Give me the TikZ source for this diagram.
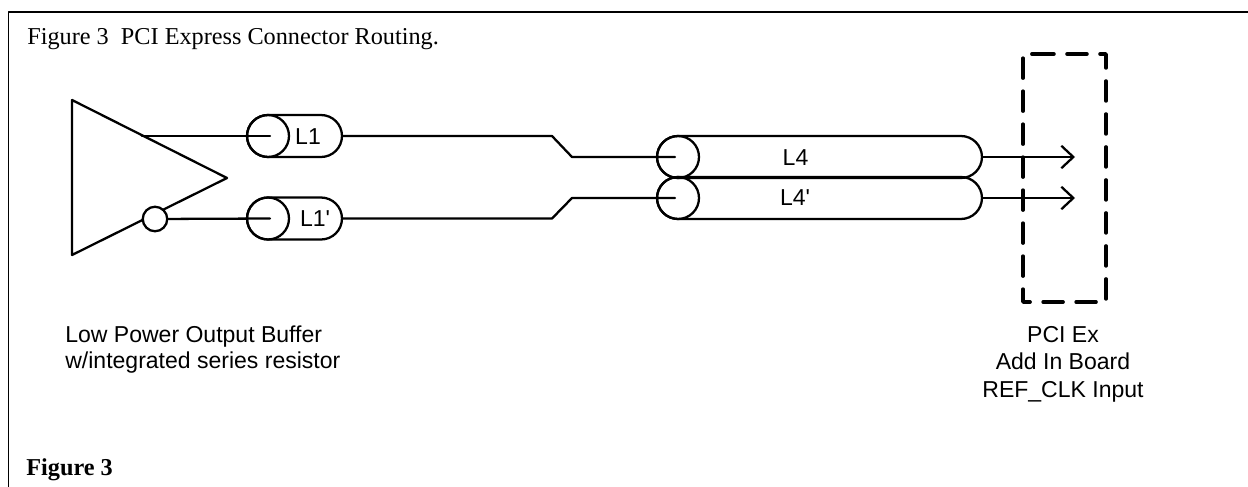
\documentclass[tikz,border=0pt]{standalone}
\usepackage{fontspec}
\setmainfont{Liberation Serif}
\newfontfamily\labelfont{Liberation Sans}
\usetikzlibrary{arrows.meta,shapes.misc}
\tikzset{
    pic line/.style={line width=1.3pt,line cap=round,line join=round},
    capsule/.style={draw,pic line,rounded rectangle,inner sep=0pt,minimum height=0.84cm},
    end circle/.style={draw,pic line,circle,inner sep=0pt,minimum size=0.84cm},
    sans label/.style={font=\labelfont\fontsize{13.1pt}{15.4pt}\selectfont,inner sep=0pt,anchor=base},
    serif label/.style={font=\fontsize{13.8pt}{16pt}\selectfont,anchor=base west,inner sep=0pt}
}
\begin{document}
\begin{tikzpicture}[line cap=round,line join=round,>={Straight Barb[length=0.24cm,width=0.45cm]},x=0.02cm,y=-0.02cm]
        \useasboundingbox (0,0) rectangle (1248,487);
        % frame, open at the bottom and on the right
        \draw [line width=0.9pt,line cap=butt] (8.5,487) -- (8.5,12) -- (1248,12);
        \node [serif label] (title) at (27,44) {Figure 3\ \ PCI Express Connector Routing.};
        \node [serif label,font=\bfseries\fontsize{13.8pt}{16pt}\selectfont] (caption) at (26,475) {Figure 3};
        % buffer
        \coordinate (buftop) at (72,100);
        \coordinate (bufbot) at (72,255);
        \coordinate (buftip) at (227,178);
        \coordinate (bufout) at (142,136);
        \draw [pic line] (buftip) -- (buftop) -- (bufbot) -- (buftip);
        \node [end circle,minimum size=0.49cm,fill=white] (bubble) at (155,219) {};
        % short lines
        \node [capsule,minimum width=1.9cm] (capa) at (294.5,136) {};
        \node [capsule,minimum width=1.9cm] (capb) at (294.5,218.5) {};
        \node [end circle] (cira) at (268,136) {};
        \node [end circle] (cirb) at (268,218.5) {};
        \coordinate (inna) at (270,136);
        \coordinate (innb) at (270,218.5);
        \node [sans label] (la) at (308,144) {L1};
        \node [sans label] (lb) at (315,226) {L1'};
        % long lines
        \node [capsule,minimum width=6.5cm] (capc) at (819.5,157) {};
        \node [capsule,minimum width=6.5cm] (capd) at (819.5,198) {};
        \node [end circle] (circ) at (678,157) {};
        \node [end circle] (cird) at (678,198) {};
        \coordinate (innc) at (675,157);
        \coordinate (innd) at (675,198);
        \node [sans label] (lc) at (795.5,165) {L4};
        \node [sans label] (ld) at (795,205) {L4'};
        % wires
        \draw [pic line] (bufout) -- (inna);
        \draw [pic line] (bubble) -- (innb);
        \draw [pic line] (capa.east) -- (552,136) -- (572,157) -- (innc);
        \draw [pic line] (capb.east) -- (552,218.5) -- (572,198) -- (innd);
        % board
        \coordinate (arra) at (1075,157);
        \coordinate (arrb) at (1075,198);
        \draw [pic line,->] (capc.east) -- (arra);
        \draw [pic line,->] (capd.east) -- (arrb);
        \draw [line width=2pt,line cap=round,dash pattern=on 0.40cm off 0.26cm] (1034,54) -- (1106,54) -- (1106,302) -- (1023,302) -- (1023,54) -- cycle;
        \node [sans label,anchor=base west] (buflabel) at (65,342) {Low Power Output Buffer};
        \node [sans label,anchor=base west] (buflabelb) at (65,368) {w/integrated series resistor};
        \node [sans label] (boarda) at (1063,342) {PCI Ex};
        \node [sans label] (boardb) at (1063,369) {Add In Board};
        \node [sans label] (boardc) at (1063,397) {REF\_CLK Input};
    \end{tikzpicture}
\end{document}
